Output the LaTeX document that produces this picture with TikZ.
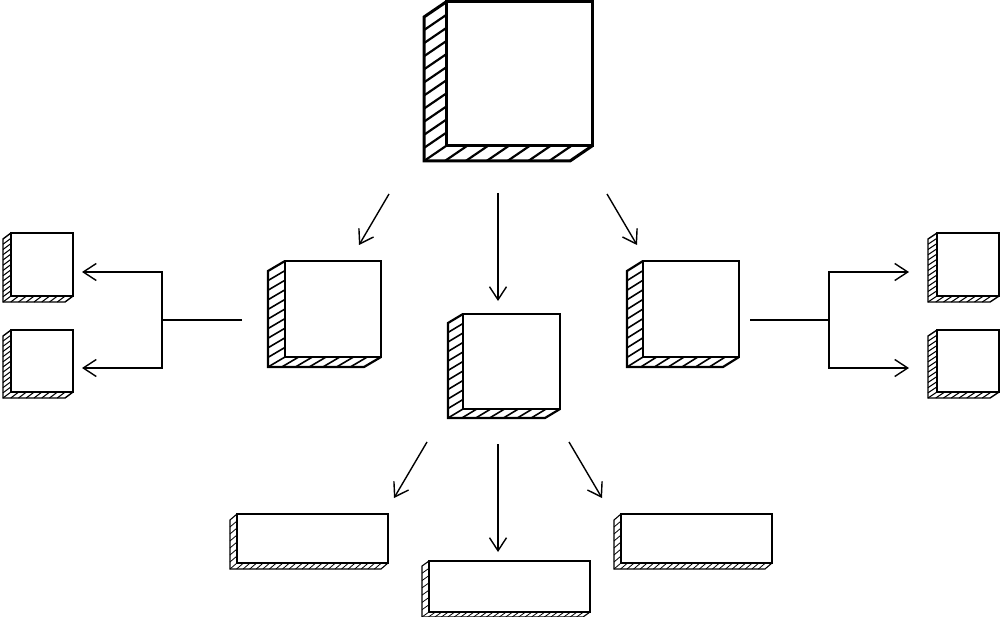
\documentclass[tikz,border=0pt]{standalone}
\usetikzlibrary{arrows.meta,calc}

\tikzset{
    cube/.style={draw, rectangle, anchor=north west, inner sep=0pt, outer sep=0pt},
    flow/.style={-{Straight Barb[length=13pt,width=17pt]}, line width=1.4pt},
}
% side and bottom faces of a box, hatched along the depth
\newcommand{\cubefaces}[5]{%
    \draw[line join=miter] (#1.north west) -- ++(-#2,#3) -- ($(#1.south west)+(-#2,#3)$)
        -- ($(#1.south east)+(-#2,#3)$) -- (#1.south east);
    \begin{scope}[line width=0.85\pgflinewidth]
        \foreach \i in {1,...,#4}
            \draw ($(#1.south west)!{\i/(#4+1)}!(#1.north west)$) -- ++(-#2,#3);
        \foreach \i in {0,...,#5}
            \draw ($(#1.south west)!{\i/(#5+1)}!(#1.south east)$) -- ++(-#2,#3);
    \end{scope}
}

\begin{document}
\begin{tikzpicture}[x=1pt, y=-1pt]
    \useasboundingbox (0,0) rectangle (1000,617);

    % boxes
    \begin{scope}[line width=3pt]
        \node[cube, minimum width=146pt, minimum height=144pt] (top) at (446,2) {};
        \cubefaces{top}{22}{15}{10}{6}
    \end{scope}
    \begin{scope}[line width=2.2pt]
        \node[cube, minimum width=96pt, minimum height=96pt] (ml) at (285,261) {};
        \node[cube, minimum width=97pt, minimum height=95pt] (mc) at (463,314) {};
        \node[cube, minimum width=96pt, minimum height=96pt] (mr) at (643,261) {};
        \cubefaces{ml}{17}{10}{9}{6}
        \cubefaces{mc}{15}{9}{9}{6}
        \cubefaces{mr}{16}{10}{9}{6}
    \end{scope}
    \begin{scope}[line width=1.4pt]
        \node[cube, minimum width=62pt, minimum height=63pt] (l1) at (11,233) {};
        \node[cube, minimum width=62pt, minimum height=62pt] (l2) at (11,330) {};
        \node[cube, minimum width=62pt, minimum height=63pt] (r1) at (937,233) {};
        \node[cube, minimum width=62pt, minimum height=62pt] (r2) at (937,330) {};
        \cubefaces{l1}{8}{6}{11}{7}
        \cubefaces{l2}{8}{6}{11}{7}
        \cubefaces{r1}{9}{6}{11}{7}
        \cubefaces{r2}{9}{6}{11}{7}
    \end{scope}
    \begin{scope}[line width=1.1pt]
        \node[cube, minimum width=151pt, minimum height=49pt] (b1) at (237,514) {};
        \node[cube, minimum width=161pt, minimum height=51pt] (b2) at (429,561) {};
        \node[cube, minimum width=151pt, minimum height=49pt] (b3) at (621,514) {};
        \cubefaces{b1}{7}{6}{6}{22}
        \cubefaces{b2}{7}{5}{6}{24}
        \cubefaces{b3}{7}{6}{6}{22}
    \end{scope}

    % arrows between the boxes
    \coordinate (t1) at (389,194);
    \coordinate (t2) at (359,245);
    \coordinate (t3) at (498,193);
    \coordinate (t4) at (498,301);
    \coordinate (t5) at (607,194);
    \coordinate (t6) at (637,245);
    \coordinate (c1) at (427,442);
    \coordinate (c2) at (394,498);
    \coordinate (c3) at (498,444);
    \coordinate (c4) at (498,552);
    \coordinate (c5) at (569,442);
    \coordinate (c6) at (602,498);
    \draw[flow] (t1) -- (t2);
    \draw[flow] (t3) -- (t4);
    \draw[flow] (t5) -- (t6);
    \draw[flow] (c1) -- (c2);
    \draw[flow] (c3) -- (c4);
    \draw[flow] (c5) -- (c6);

    % branches to the small boxes
    \coordinate (ls) at (242,320);
    \coordinate (lk) at (162,320);
    \coordinate (lt1) at (82,272);
    \coordinate (lt2) at (82,368);
    \coordinate (rs) at (750,320);
    \coordinate (rk) at (829,320);
    \coordinate (rt1) at (909,272);
    \coordinate (rt2) at (909,368);
    \draw[line width=1.4pt] (ls) -- (lk);
    \draw[flow] (lk) |- (lt1);
    \draw[flow] (lk) |- (lt2);
    \draw[line width=1.4pt] (rs) -- (rk);
    \draw[flow] (rk) |- (rt1);
    \draw[flow] (rk) |- (rt2);
\end{tikzpicture}
\end{document}
